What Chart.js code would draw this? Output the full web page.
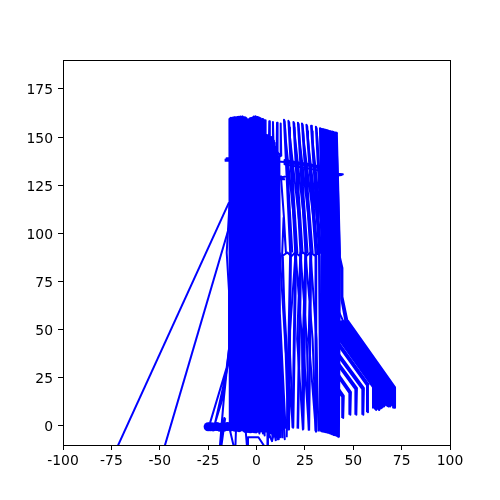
<!DOCTYPE html>
<html>
<head>
<meta charset="utf-8">
<script src="https://cdn.jsdelivr.net/npm/chart.js@4/dist/chart.umd.js"></script>
<style>
    html, body { margin: 0; padding: 0; background: #fff; }
    canvas { display: block; }
</style>
</head>
<body>
<canvas id="chart" width="500" height="500"></canvas>
<script>
// tick labels
const xTicks = [-100, -75, -50, -25, 0, 25, 50, 75, 100];
const yTicks = [0, 25, 50, 75, 100, 125, 150, 175];

// dense left block of the trace
const blockX = [-14.0,-13.8,-13.2,-13.0,-12.4,-12.2,-11.6,-11.3,-10.8,-10.4,-10.0,-9.6,-9.1,-8.8,-8.3,-8.0,-7.4,-7.2,-6.6,-6.3,-5.7,-5.4,-4.8,-4.5,-4.1,-3.6,-3.1,-2.8,-2.3,-2.0,-1.4,-1.0,-0.5,-0.2,0.4,0.7,1.3,1.5,2.1,2.4,3.0,3.3,3.8,4.2,4.7,5.0,5.3,5.7,6.2,6.5,7.0,7.5,7.8,8.2,8.6,9.0,9.4,9.8,10.2,10.7,11.0,11.5,11.8,12.3,11.6,14.6,11.7,15.0,12.0,13.4];
const blockY = [159.6,-1,160,-2,160,-1,160.2,0,160.3,-1,160.4,-2,160.5,-1,160.6,-1.5,160.6,-2,160,-3,159,-2,158,-2.5,157.5,-2,159.5,-3,160,-2,160.6,-3,160.8,-3.5,160.4,-3,160,-4,159.8,-3,159.4,-4,159,-5,158.7,-3,151,-13,151,-6,150,-4,150,-6,148,-5,147,-6,145,-7,142,-7,140,-6,55,-7,50,-1,60,-6.5];

// short fingers standing on top of the block
const fingerX = [6.4,6.6,6.9,8.3,8.5,8.8,10.4,10.6,10.9,12.4,12.5,12.8];
const fingerY = [146,158.2,146,146,157.8,146,142,157.4,142,140,157,140];

// strand between the block and the first column
const strandX = [12.6,14.2,15.2,14.0,13.2,14.5,16.2,16.8,16.4,15.0,13.6];
const strandY = [130,108,90,108,88,60,30,-2,-2,40,88];

// separate columns in the middle, null breaks the line between them
const columnX = [15.6,17.4,14.2,14.6,17.8,16.8,null,18.6,20.0,16.5,16.9,20.5,19.0,null,21.2,22.7,19.1,19.5,23.1,21.5,null,24.0,25.3,21.4,21.8,25.7,24.2,null,27.0,27.9,23.5,23.9,28.3,27.2,null,30.6,30.5,25.8,26.2,30.9,30.8,null,33.0,32.3,28.2,28.6,32.7,33.2,null,34.0,34.0,30.7,31.1,34.4,33.6];
const columnY = [-6,90,159,158,88,-2,null,-1,90,158.4,157.6,88,-1,null,-1.5,90,157.8,157,88,-1.5,null,-2,90,157.4,156.6,88,-2,null,-2.5,90,157,156.2,88,-2.5,null,-2.5,90,156.4,155.6,88,-3,null,-3,90,155.8,155,88,-3,null,-3,90,155.3,154.5,88,-3];

// second pass to thicken the columns above the mid ridge
const columnBX = [18.5,14.7,15.0,21.1,17.0,17.3,23.8,19.6,19.9,26.4,21.9,22.2,29.0,24.0,24.3,31.6,26.3,26.6,33.4,28.7,29.0,35.1,31.2,31.5];
const columnBY = [90,156,150,90,155,150,90,155,150,90,154,149,90,154,149,90,153,148,90,153,148,90,152,147];

// strands crossing between the lower legs
const crossX = [12,15,18.9,17,20.2,23.5,24,21,22.7,26,27.1,24,25.3,29,30.7,27,27.9,31,32];
const crossY = [90,40,-1,45,90,45,-2,45,90,45,-2,45,90,45,-3,45,90,45,-3];

// right hand solid part of the columns
const solidX = [32.8,33.8,32.8,33.2,34.3,33.6,34.0,34.8,33.7,34.2,35.3,34.6,35.0,35.8,34.6,35.1,36.3,35.6,36.0,36.8,35.5,36.0,37.3,36.6,37.0,37.8,36.4,36.9,38.3,37.6,38.0,38.8,37.3,37.8,39.3,38.6,39.0,39.8,38.2,38.7,40.3,39.6,40.0,40.8,39.2,39.7,41.3,40.6,41.0,41.8,40.2,40.7,42.3,41.6,42.0,42.8,41.1,41.5,43.1,42.6,42.9];
const solidY = [-2.5,90,154.6,154.4,90,-2.8,-3,90,154.2,154,90,-3,-3.2,90,154,153.8,90,-3.2,-3.4,90,153.8,153.6,90,-3.5,-3.6,90,153.6,153.4,90,-3.8,-4,90,153.2,153,90,-4.2,-4.4,90,153,152.8,90,-4.6,-4.8,90,152.8,152.6,90,-5,-5,90,152.4,152.3,90,-5.3,-5.6,90,152.2,152,90,-5.8,-6];

// right edge where the solid part meets the fan
const shoulderX = [41.2,41.8,43.0,44.4,44.4,47.0,46.0,43.8,43.8,42.4,42.2,45.0,42.0];
const shoulderY = [152,135,88,82,67,54.5,54,66,82,88,60,54,50];

// fan of diagonals down to the lower right
const fanX = [60.2,60.2,35.9,36.7,61.0,61.0,61.8,61.8,37.5,38.3,62.6,62.6,63.4,63.4,39.1,39.9,64.2,64.2,65.0,65.0,40.7,41.5,65.8,65.8,66.6,66.6,42.3,43.1,67.4,67.4,68.2,68.2,43.9,44.7,69.0,69.0,69.8,69.8,45.5,46.3,70.6,70.6,71.4,71.6,47.3,71.6,71.6];
const fanY = [9,20,54.3,54.3,20,9.2,8.2,20,54.3,54.3,20,9,8.2,20,54.3,54.3,20,9,9.5,20,54.3,54.3,20,10,11,20,54.3,54.3,20,10.5,10,20,54.3,54.3,20,10,11,20,54.3,54.3,20,9.5,9.3,20,54.5,20,9.3];

// lone legs under the fan, null breaks the line between them
const legX = [57.1,57.1,36.0,37.2,57.9,57.6,57.6,null,54.7,54.7,35.0,36.2,55.5,55.2,55.2,null,51.1,51.1,34.0,35.2,51.9,51.6,51.6,null,48.0,48.0,33.4,34.6,48.8,48.5,48.5,null,44.3,44.3,33.2,34.4,45.1,44.8,44.8];
const legY = [7,21,50.6,50.6,21.5,21,7,null,5.7,19,46,46,19.5,19,5.7,null,5.7,19,42.6,42.6,19.5,19,5.7,null,5.7,17,38,38,17.5,17,5.7,null,4,15,31,31,15.5,15,4];

// mid height ridges
const ridgeTopX = [-16.5,-13,-16,-13,-15.5,-13,14.5,20,27,33,35,40,44.6,40,35,33,27,20,14.5,14.5,20,27,33,36,40,44,40,36];
const ridgeTopY = [138.2,138.4,137.6,137.6,139,139,137,136,135,133.6,131.6,131,130.6,130,130,132.4,133.6,134.8,135.8,138,137,136,134.6,132.4,131.4,130.2,129.8,130.4];
const ridgeMidX = [13.0,16,18,20,22,24,26,28,30,33,36];
const ridgeMidY = [88,90,88,90,88.5,90,88.5,90,88.5,90,89];
const stubX = [11,14.8,11,14.8];
const stubY = [129,129.4,128,128];

// long strays and bits below the block
const strayAX = [-76,-14.2];
const strayAY = [-20,116];
const strayBX = [-50.2,-14.2];
const strayBY = [-20,103];
const strayCX = [-24,-13.7,-21.4,-17.3,-14.2,-14.2,-15.4,-13.9];
const strayCY = [1.5,36,1.5,15,40,70,90,116];
const strayDX = [-18,-16.8,-14.2,-16.8,-19.2,-16.6,-18.6,-16.2];
const strayDY = [1,15,40,15,-14,4,-14,4];
const strayEX = [-14.5,-11,-10.5,-5.8,-4.9,-4.4,1,5.6,5.9,8,9.2,10];
const strayEY = [1,-14,1,0,-11,-6,-6,-13,-3,-8,-3,-8];

// round blobs of overlapping markers
const markX = [-25,-23.8,-22.4,-20.6,-18.8,-17,-15,-13.2,-11,-9,-7,-5.2,-3.2,-1,0.8,-0.8,-6.4,-2.6];
const markY = [-0.5,-0.5,-0.6,-0.4,-0.8,-0.8,-0.4,-0.6,-0.8,-1,-0.6,-1.4,-1.6,-1.6,-1.2,158.6,158.4,158];

const BLUE = '#0000ff';

function points(xs, ys) {
    return xs.map((x, i) => ({ x: x, y: ys[i] }));
}

function lineSet(xs, ys) {
    return {
        data: points(xs, ys),
        showLine: true,
        spanGaps: false,
        borderColor: BLUE,
        borderWidth: 2,
        borderJoinStyle: 'round',
        borderCapStyle: 'butt',
        tension: 0,
        pointRadius: 0
    };
}

// closed box round the plot area, like the other three spines
const frame = {
    id: 'frame',
    afterDraw(chart) {
        const { ctx, chartArea: a } = chart;
        ctx.save();
        ctx.strokeStyle = '#000';
        ctx.lineWidth = 1;
        ctx.strokeRect(a.left + 0.5, a.top + 0.5, a.right - a.left, a.bottom - a.top);
        ctx.restore();
    }
};

new Chart(document.getElementById('chart'), {
    type: 'scatter',
    data: {
        datasets: [
            lineSet(blockX, blockY),
            lineSet(fingerX, fingerY),
            lineSet(strandX, strandY),
            lineSet(columnX, columnY),
            lineSet(columnBX, columnBY),
            lineSet(crossX, crossY),
            lineSet(solidX, solidY),
            lineSet(shoulderX, shoulderY),
            lineSet(fanX, fanY),
            lineSet(legX, legY),
            lineSet(ridgeTopX, ridgeTopY),
            lineSet(ridgeMidX, ridgeMidY),
            lineSet(stubX, stubY),
            lineSet(strayAX, strayAY),
            lineSet(strayBX, strayBY),
            lineSet(strayCX, strayCY),
            lineSet(strayDX, strayDY),
            lineSet(strayEX, strayEY),
            {
                data: points(markX, markY),
                showLine: false,
                pointRadius: 4.5,
                pointBackgroundColor: BLUE,
                pointBorderWidth: 0
            }
        ]
    },
    options: {
        responsive: false,
        animation: false,
        layout: { padding: { left: 0, right: 50, top: 60, bottom: 0 } },
        plugins: { legend: { display: false }, tooltip: { enabled: false } },
        scales: {
            x: {
                type: 'linear',
                min: -100,
                max: 100,
                afterFit: (scale) => { scale.height = 55; },
                afterBuildTicks: (scale) => { scale.ticks = xTicks.map(v => ({ value: v })); },
                grid: { drawOnChartArea: false, tickLength: 5, tickColor: '#000', tickWidth: 1 },
                border: { display: false },
                ticks: {
                    color: '#000',
                    padding: 3,
                    maxRotation: 0,
                    autoSkip: false,
                    font: { family: 'DejaVu Sans', size: 13.9 }
                }
            },
            y: {
                type: 'linear',
                min: -10,
                max: 190,
                afterFit: (scale) => { scale.width = 63; },
                afterBuildTicks: (scale) => { scale.ticks = yTicks.map(v => ({ value: v })); },
                grid: { drawOnChartArea: false, tickLength: 5, tickColor: '#000', tickWidth: 1 },
                border: { display: false },
                ticks: {
                    color: '#000',
                    padding: 5,
                    labelOffset: 2,
                    autoSkip: false,
                    font: { family: 'DejaVu Sans', size: 13.9 }
                }
            }
        }
    },
    plugins: [frame]
});
</script>
</body>
</html>
